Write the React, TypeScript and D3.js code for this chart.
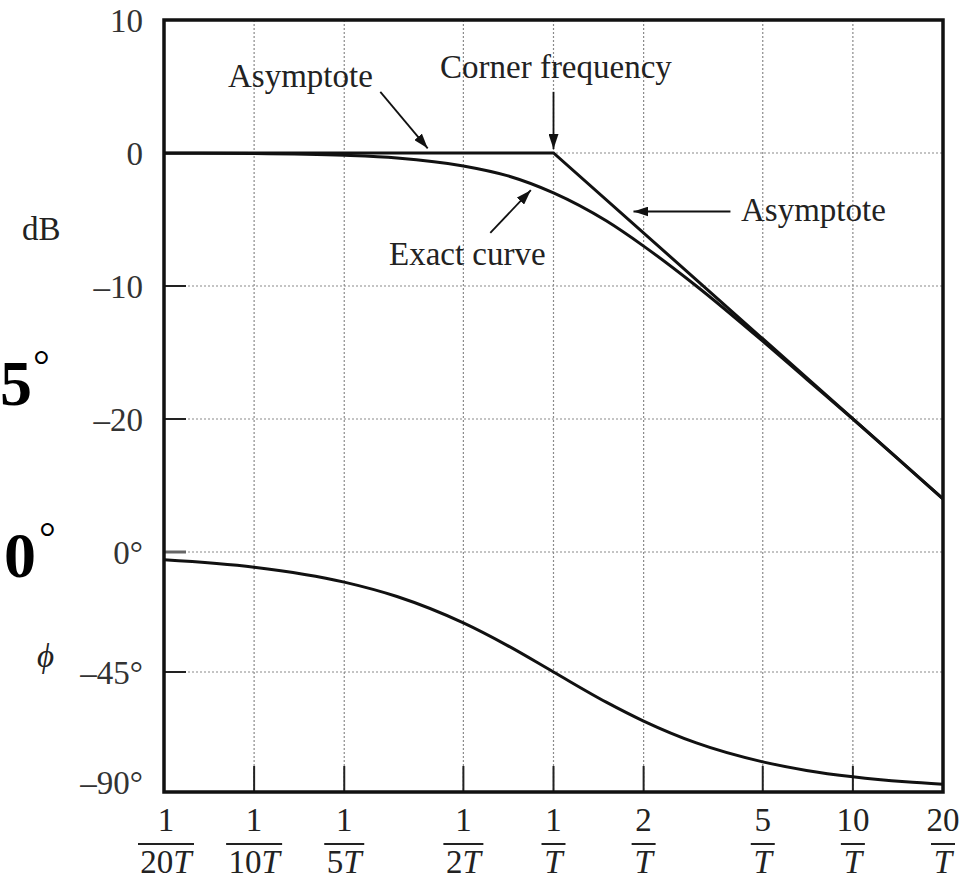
import React from "react";
import * as d3 from "d3";

// ---- data ----
const tickFreqs = [0.05, 0.1, 0.2, 0.5, 1, 2, 5, 10, 20];
const tickNums = ["1", "1", "1", "1", "1", "2", "5", "10", "20"];
const tickDens = ["20", "10", "5", "2", "", "", "", "", ""];

const freqs = [0.05, 0.1, 0.2, 0.3, 0.5, 0.7, 1, 1.5, 2, 3, 5, 7, 10, 15, 20];
const exactDb = [-0.01, -0.04, -0.17, -0.37, -0.97, -1.7, -3.0, -5.1, -7.0, -10.0, -14.15, -17.0, -20.0, -23.5, -26.0];
const phaseDeg = [-2.9, -5.7, -11.3, -16.7, -26.6, -35.0, -45.0, -56.3, -63.4, -71.6, -78.7, -81.9, -84.3, -86.2, -87.1];

const asymFreqs = [0.05, 1, 20];
const asymDb = [0, 0, -26.0];

const dbTicks = [10, 0, -10, -20];
const dbTickLabels = ["10", "0", "\u201310", "\u201320"];
const phaseTicks = [0, -45, -90];
const phaseTickLabels = ["0\u00b0", "\u201345\u00b0", "\u201390\u00b0"];

export default function App() {
  const W = 972, H = 882;
  const left = 164, right = 943, top = 20, bottom = 792;
  const x = d3.scaleLog().domain([0.05, 20]).range([left, right]);
  const yDb = d3.scaleLinear().domain([10, -30]).range([top, 552]);
  const yPh = d3.scaleLinear().domain([0, -90]).range([552, bottom]);

  const font = "'Liberation Serif', 'Times New Roman', serif";
  const fs = 33;

  const exactPts = freqs.map((f, i) => [x(f), yDb(exactDb[i])] as [number, number]);
  const phasePts = freqs.map((f, i) => [x(f), yPh(phaseDeg[i])] as [number, number]);
  const asymPts = asymFreqs.map((f, i) => [x(f), yDb(asymDb[i])] as [number, number]);
  const line = d3.line().curve(d3.curveMonotoneX);
  const straight = d3.line();

  const gridH = [yDb(0), yDb(-10), yDb(-20), yPh(0), yPh(-45)];
  const grey = "#8a8a8a";

  // annotation arrows in data units
  const arrows = [
    { f0: 0.264, d0: 4.6, f1: 0.38, d1: 0.35 },
    { f0: 1, d0: 4.6, f1: 1, d1: 0.3 },
    { f0: 0.615, d0: -6.0, f1: 0.84, d1: -2.8 },
    { f0: 3.9, d0: -4.4, f1: 1.85, d1: -4.4 },
  ];

  return (
    <svg width={W} height={H} style={{ position: "absolute", left: 0, top: 0, background: "#fff" }}
      fontFamily={font}>
      <defs>
        <marker id="ah" markerUnits="userSpaceOnUse" markerWidth={16} markerHeight={10}
          refX={15} refY={5} orient="auto">
          <path d="M0,0 L15,5 L0,10 z" fill="#111" />
        </marker>
      </defs>
      <rect x={0} y={0} width={W} height={H} fill="#fff" />

      {/* grid */}
      {tickFreqs.slice(1, -1).map((f, i) => (
        <line key={"gv" + i} x1={x(f)} x2={x(f)} y1={top} y2={bottom}
          stroke={grey} strokeWidth={1.2} strokeDasharray="2,2" />
      ))}
      {gridH.map((y, i) => (
        <line key={"gh" + i} x1={left} x2={right} y1={y} y2={y}
          stroke={grey} strokeWidth={1.2} strokeDasharray="2,2" />
      ))}

      {/* tick stubs */}
      {[yDb(-10), yDb(-20), yPh(-45)].map((y, i) => (
        <line key={"tl" + i} x1={left} x2={left + 22} y1={y} y2={y} stroke="#222" strokeWidth={2} />
      ))}
      <line x1={left} x2={left + 22} y1={yPh(0)} y2={yPh(0)} stroke="#666" strokeWidth={3} />
      {tickFreqs.slice(1, -1).map((f, i) => (
        <line key={"tb" + i} x1={x(f)} x2={x(f)} y1={bottom} y2={bottom - 26} stroke="#222" strokeWidth={2} />
      ))}

      {/* curves */}
      <path d={straight(asymPts) || ""} fill="none" stroke="#111" strokeWidth={3} />
      <path d={line(exactPts) || ""} fill="none" stroke="#111" strokeWidth={3} />
      <path d={line(phasePts) || ""} fill="none" stroke="#111" strokeWidth={3} />

      {/* frame */}
      <rect x={left} y={top} width={right - left} height={bottom - top} fill="none" stroke="#111" strokeWidth={3.5} />

      {/* arrows */}
      {arrows.map((a, i) => (
        <line key={"ar" + i} x1={x(a.f0)} y1={yDb(a.d0)} x2={x(a.f1)} y2={yDb(a.d1)}
          stroke="#111" strokeWidth={1.8} markerEnd="url(#ah)" />
      ))}

      {/* annotation texts */}
      <text x={228} y={87} fontSize={fs} fill="#222">Asymptote</text>
      <text x={440} y={78} fontSize={fs} fill="#222">Corner frequency</text>
      <text x={389} y={265} fontSize={fs} fill="#222">Exact curve</text>
      <text x={741} y={221} fontSize={fs} fill="#222">Asymptote</text>

      {/* y tick labels */}
      {dbTicks.map((t, i) => (
        <text key={"yl" + i} x={143} y={yDb(t)} dy="0.35em" textAnchor="end" fontSize={fs} fill="#333">
          {dbTickLabels[i]}
        </text>
      ))}
      {phaseTicks.map((t, i) => (
        <text key={"pl" + i} x={143} y={yPh(t) - (t === -90 ? 10 : 0)} dy="0.35em" textAnchor="end"
          fontSize={fs} fill="#333">
          {phaseTickLabels[i]}
        </text>
      ))}

      {/* axis titles */}
      <text x={22} y={240} fontSize={fs} fill="#222">dB</text>
      <text x={37} y={667} fontSize={fs} fontStyle="italic" fill="#222">{"\u03d5"}</text>

      {/* stray large labels at left edge */}
      <text x={0} y={405} fontSize={64} fontWeight="bold" fill="#000">5</text>
      <text x={33} y={379} fontSize={42} fill="#000">{"\u00b0"}</text>
      <text x={4} y={577} fontSize={64} fontWeight="bold" fill="#000">0</text>
      <text x={39} y={551} fontSize={42} fill="#000">{"\u00b0"}</text>

      {/* x tick fraction labels */}
      {tickFreqs.map((f, i) => {
        const cx = x(f) + (i === 0 ? 2 : 0);
        const den = tickDens[i];
        const bw = 8 + 16 * (den.length + 1);
        return (
          <g key={"xl" + i}>
            <text x={cx} y={831} textAnchor="middle" fontSize={fs} fill="#222">{tickNums[i]}</text>
            <line x1={cx - bw / 2} x2={cx + bw / 2} y1={844} y2={844} stroke="#222" strokeWidth={2} />
            <text x={cx} y={873} textAnchor="middle" fontSize={fs} fill="#222">
              {den}<tspan fontStyle="italic">T</tspan>
            </text>
          </g>
        );
      })}
    </svg>
  );
}
